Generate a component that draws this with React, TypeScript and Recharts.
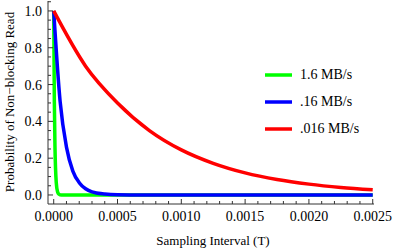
import React from "react";
import { Line, LineChart, XAxis, YAxis } from "recharts";

// sampling interval (T) -> probability
const greenT = [0, 0.000005, 0.00001, 0.00002, 0.00003, 0.00004, 0.00006, 0.0005, 0.0025];
const greenP = [1.0, 0.51, 0.26, 0.067, 0.017, 0.005, 0, 0, 0];

const blueT = [0, 0.00005, 0.0001, 0.00015, 0.0002, 0.00025, 0.0003, 0.0004, 0.0005, 0.0007, 0.0025];
const blueP = [1.0, 0.51, 0.26, 0.13, 0.067, 0.034, 0.017, 0.005, 0.001, 0, 0];

const redT = [0, 0.00025, 0.0005, 0.00075, 0.001, 0.00125, 0.0015, 0.00175, 0.002, 0.00225, 0.0025];
const redP = [1.0, 0.7, 0.5, 0.35, 0.245, 0.172, 0.12, 0.084, 0.059, 0.041, 0.028];

const seriesNames = ["1.6 MB/s", ".16 MB/s", ".016 MB/s"];
const seriesColors = ["#00ff00", "#0000ff", "#ff0000"];

const xTicks = [
  0, 0.0001, 0.0002, 0.0003, 0.0004, 0.0005, 0.0006, 0.0007, 0.0008, 0.0009, 0.001,
  0.0011, 0.0012, 0.0013, 0.0014, 0.0015, 0.0016, 0.0017, 0.0018, 0.0019, 0.002,
  0.0021, 0.0022, 0.0023, 0.0024, 0.0025,
];
const xMajor = [0, 0.0005, 0.001, 0.0015, 0.002, 0.0025];
const yTicks = [
  0, 0.05, 0.1, 0.15, 0.2, 0.25, 0.3, 0.35, 0.4, 0.45, 0.5, 0.55, 0.6, 0.65, 0.7,
  0.75, 0.8, 0.85, 0.9, 0.95, 1.0, 1.05,
];
const yMajor = [0, 0.2, 0.4, 0.6, 0.8, 1.0];

const toRows = (t: number[], p: number[]) => t.map((x, i) => ({ t: x, p: p[i] }));
const series = [toRows(greenT, greenP), toRows(blueT, blueP), toRows(redT, redP)];

const FONT = "Liberation Serif, DejaVu Serif, serif";
const AXIS = "#333";
const txt = (size: number) => ({ fontFamily: FONT, fontSize: size });

const isMajor = (list: number[], v: number) => list.some((m) => Math.abs(m - v) < 1e-9);

const XTick = (props: any) => {
  const { x, y, payload } = props;
  const major = isMajor(xMajor, payload.value);
  return (
    <g>
      <line x1={x} x2={x} y1={y} y2={y - (major ? 5 : 3)} stroke={AXIS} strokeWidth={1} />
      {major && (
        <text x={x} y={y + 17} textAnchor="middle" style={txt(14)} fill="#000">
          {payload.value.toFixed(4)}
        </text>
      )}
    </g>
  );
};

const YTick = (props: any) => {
  const { x, y, payload } = props;
  const major = isMajor(yMajor, payload.value);
  return (
    <g>
      <line x1={x} x2={x + (major ? 5 : 3)} y1={y} y2={y} stroke={AXIS} strokeWidth={1} />
      {major && (
        <text x={x - 6} y={y + 5} textAnchor="end" style={txt(14)} fill="#000">
          {payload.value.toFixed(1)}
        </text>
      )}
    </g>
  );
};

const LegendBox = () => (
  <div
    style={{
      position: "absolute",
      left: 265,
      top: 61,
      ...txt(14),
      color: "#000",
      lineHeight: "14px",
    }}
  >
    {seriesNames.map((name, i) => (
      <div key={name} style={{ display: "flex", alignItems: "center", height: 27 }}>
        <svg width={27} height={6} style={{ marginRight: 8 }}>
          <line x1={0} x2={27} y1={3} y2={3} stroke={seriesColors[i]} strokeWidth={3.5} />
        </svg>
        <span>{name}</span>
      </div>
    ))}
  </div>
);

export default function App() {
  return (
    <div style={{ position: "absolute", left: 0, top: 0, width: 393, height: 251, background: "#fff", ...txt(14) }}>
      <LineChart width={393} height={251} margin={{ top: 1, right: 19, bottom: 0, left: 0 }}>
        <XAxis
          type="number"
          dataKey="t"
          domain={[-0.0000447, 0.00251]}
          ticks={xTicks}
          interval={0}
          tick={<XTick />}
          tickLine={false}
          tickSize={0}
          tickMargin={0}
          stroke={AXIS}
          allowDataOverflow
          height={47}
          label={{
            content: () => (
              <text x={213} y={245} textAnchor="middle" style={txt(13)} fill="#000">
                Sampling Interval (T)
              </text>
            ),
          }}
        />
        <YAxis
          type="number"
          dataKey="p"
          domain={[-0.049, 1.054]}
          ticks={yTicks}
          interval={0}
          tick={<YTick />}
          tickLine={false}
          tickSize={0}
          tickMargin={0}
          stroke={AXIS}
          allowDataOverflow
          width={48}
          label={{
            content: () => (
              <text
                x={14}
                y={102}
                textAnchor="middle"
                style={txt(13)}
                fill="#000"
                transform="rotate(-90 14 102)"
              >
                Probability of Non−blocking Read
              </text>
            ),
          }}
        />
        {series.map((rows, i) => (
          <Line
            key={seriesNames[i]}
            data={rows}
            dataKey="p"
            name={seriesNames[i]}
            type="monotone"
            stroke={seriesColors[i]}
            strokeWidth={3.5}
            dot={false}
            activeDot={false}
            isAnimationActive={false}
          />
        ))}
      </LineChart>
      <LegendBox />
    </div>
  );
}
